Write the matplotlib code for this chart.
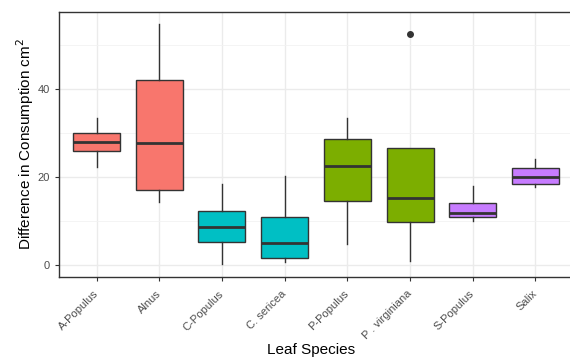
import matplotlib.pyplot as plt
import matplotlib.transforms as mtransforms
import numpy as np

plt.rcParams['font.family'] = ['Liberation Sans', 'DejaVu Sans']

# box statistics
species = ['A-Populus', 'Alnus', 'C-Populus', 'C. sericea',
           'P-Populus', 'P . virginiana', 'S-Populus', 'Salix']
whislo = [22.2, 14.3, 0.2, 0.6, 4.8, 1.0, 10.1, 17.8]
q1 = [25.8, 17.0, 5.2, 1.5, 14.5, 9.7, 10.8, 18.3]
med = [28.0, 27.8, 8.7, 5.1, 22.6, 15.2, 11.9, 20.1]
q3 = [29.9, 42.0, 12.2, 10.8, 28.6, 26.5, 14.0, 22.0]
whishi = [33.3, 54.8, 18.4, 20.2, 33.3, 26.5, 18.0, 24.0]
outliers = [[], [], [], [], [], [52.4], [], []]
fills = ['#F8766D', '#F8766D', '#00BFC4', '#00BFC4',
         '#7CAE00', '#7CAE00', '#C77CFF', '#C77CFF']

stats = []
for i in range(len(species)):
    stats.append(dict(whislo=whislo[i], q1=q1[i], med=med[i], q3=q3[i],
                      whishi=whishi[i], fliers=outliers[i]))

fig = plt.figure(figsize=(5.7, 3.6), dpi=100)
# the panel runs slightly past the right edge of the picture (cropped)
ax = fig.add_axes([0.1035, 0.231, 0.9018, 0.7357])

pos = np.arange(1, len(species) + 1)
bp = ax.bxp(stats, positions=pos, widths=0.75, patch_artist=True,
            showcaps=False,
            boxprops=dict(edgecolor='#333333', linewidth=1.0),
            medianprops=dict(color='#333333', linewidth=2.0),
            whiskerprops=dict(color='#333333', linewidth=1.0),
            flierprops=dict(marker='o', markerfacecolor='#333333',
                            markeredgecolor='#333333', markersize=4))
for patch, c in zip(bp['boxes'], fills):
    patch.set_facecolor(c)

ax.set_xlim(0.4, len(species) + 0.6)
ax.set_ylim(-2.7, 57.5)
ax.set_xticks(pos)
ax.set_xticklabels(species, rotation=45, ha='right', va='center',
                   rotation_mode='anchor')
# nudge the rotated labels to the right, like ggplot does
shift = mtransforms.ScaledTranslation(8 / 72, 0, fig.dpi_scale_trans)
for lab in ax.get_xticklabels():
    lab.set_transform(lab.get_transform() + shift)
ax.set_yticks([0, 20, 40])
ax.set_yticks([10, 30, 50], minor=True)

ax.set_axisbelow(True)
ax.grid(which='major', color='#EBEBEB', linewidth=1.0)
ax.grid(which='minor', axis='y', color='#F2F2F2', linewidth=0.6)
ax.tick_params(which='minor', length=0)
ax.tick_params(which='major', length=3, color='#333333',
               labelcolor='#4D4D4D', labelsize=8)
ax.tick_params(axis='x', pad=8)
for s in ax.spines.values():
    s.set_color('#333333')
    s.set_linewidth(1.0)

ax.set_xlabel('Leaf Species', fontsize=11, color='black', va='center')
ax.set_ylabel('Difference in Consumption cm$^2$', fontsize=11, color='black',
              va='center')
ax.xaxis.set_label_coords(0.49, -0.275)
ax.yaxis.set_label_coords(-0.066, 0.5)

fig.savefig('out.png', dpi=100)
